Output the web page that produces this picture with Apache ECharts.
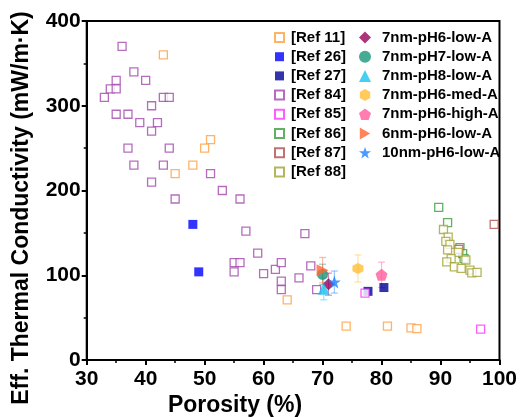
<!DOCTYPE html>
<html><head><meta charset="utf-8">
<script src="https://cdn.jsdelivr.net/npm/echarts@6/dist/echarts.min.js"></script>
<style>html,body{margin:0;padding:0;background:#fff}#c{width:520px;height:417px}</style>
</head><body><div id="c"></div>
<script>
// ---- data ----
const xTicks = [30, 40, 50, 60, 70, 80, 90, 100];
const yTicks = [0, 100, 200, 300, 400];

const ref11 = [[43,360],[51,260],[50,250],[48,230],[45,220],[64,71],[74,40],[81,40],[85,38],[86,37]];
const ref26 = [[48,160],[49,104]];
const ref27 = [[77.7,81],[80.4,85.5]];
const ref84 = [[36,370],[33,310],[34,320],[35,330],[35,320],[35,290],[38,340],[37,290],[40,330],[41,300],[39,280],[42,280],[41,270],[37,250],[43,310],[44,310],[44,250],[38,230],[43,230],[41,210],[45,190],[51,220],[53,200],[56,190],[57,152],[67,149],[59,126],[55,115],[56,115],[55,104],[60,102],[62,107],[63,115],[63,93],[63,83],[66,97],[68,111],[69,83]];
const ref85 = [[77.2,79],[96.8,36.5]];
const ref86 = [[89.7,180],[91.2,162],[93.3,132.5],[93.75,125.5],[94,119.6]];
const ref87 = [[99.1,160],[93.1,130.6]];
const ref88 = [[90.5,154],[91.3,145],[90.9,140],[91.6,136.5],[91.2,130],[93.0,127],[91.8,119.6],[91.06,115.7],[94.3,118],[92.35,109.8],[93.5,108],[95,106],[95.3,102.7],[96.2,103.5]];

const sampleNames = ['7nm-pH6-low-A','7nm-pH7-low-A','7nm-pH8-low-A','7nm-pH6-med-A','7nm-pH6-high-A','6nm-pH6-low-A','10nm-pH6-low-A'];
const sampleX = [71, 70, 70.2, 76, 80, 70, 72];
const sampleY = [89.5, 101, 84, 108, 100.5, 106, 92];
const sampleErr = [13, 12, 13, 16, 15, 15, 13];

// ---- styles ----
const FONT = '"Liberation Sans", Arial, sans-serif';
const refDefs = [
  {name:'[Ref 11]', data:ref11, color:'#ffa040', filled:false},
  {name:'[Ref 26]', data:ref26, color:'#0000ff', filled:true},
  {name:'[Ref 27]', data:ref27, color:'#000096', filled:true},
  {name:'[Ref 84]', data:ref84, color:'#a347ad', filled:false},
  {name:'[Ref 85]', data:ref85, color:'#ff33ff', filled:false},
  {name:'[Ref 86]', data:ref86, color:'#3c9c3c', filled:false},
  {name:'[Ref 87]', data:ref87, color:'#b04e4e', filled:false},
  {name:'[Ref 88]', data:ref88, color:'#a3a333', filled:false}
];
const hexPath = 'path://M0,-10L8.66,-5L8.66,5L0,10L-8.66,5L-8.66,-5Z';
const pentPath = 'path://M0,-10L9.51,-3.09L5.88,8.09L-5.88,8.09L-9.51,-3.09Z';
const starPath = 'path://M0,-10L2.35,-3.24L9.51,-3.09L3.8,1.24L5.88,8.09L0,4L-5.88,8.09L-3.8,1.24L-9.51,-3.09L-2.35,-3.24Z';
const rightTriPath = 'path://M-8.66,-10L8.66,0L-8.66,10Z';
const sampleStyle = [
  {color:'#99005c', symbol:'diamond', size:12},
  {color:'#17967a', symbol:'circle', size:11},
  {color:'#19c3f0', symbol:'triangle', size:12},
  {color:'#ffbe33', symbol:hexPath, size:11},
  {color:'#ff5c9e', symbol:pentPath, size:12},
  {color:'#ff6633', symbol:rightTriPath, size:12},
  {color:'#1a82ff', symbol:starPath, size:13}
];

const series = [];
// error bars
sampleNames.forEach((n, i) => {
  series.push({
    type:'custom', name:n+' err', silent:true, z:1,
    data:[[sampleX[i], sampleY[i]-sampleErr[i], sampleY[i]+sampleErr[i]]],
    encode:{x:0, y:[1,2]},
    renderItem:function(params, api){
      const x = api.value(0);
      const p1 = api.coord([x, api.value(1)]);
      const p2 = api.coord([x, api.value(2)]);
      const w = 3.5;
      const st = {stroke:sampleStyle[i].color, lineWidth:1.2, opacity:0.45};
      return {type:'group', children:[
        {type:'line', shape:{x1:p1[0],y1:p1[1],x2:p2[0],y2:p2[1]}, style:st},
        {type:'line', shape:{x1:p1[0]-w,y1:p1[1],x2:p1[0]+w,y2:p1[1]}, style:st},
        {type:'line', shape:{x1:p2[0]-w,y1:p2[1],x2:p2[0]+w,y2:p2[1]}, style:st}
      ]};
    }
  });
});
refDefs.forEach(d => {
  series.push({
    type:'scatter', name:d.name, data:d.data, symbol:'rect',
    symbolSize: d.filled ? 9 : 8, z:2,
    itemStyle: d.filled ? {color:d.color} : {color:'#ffffff', borderColor:d.color, borderWidth:1.3},
    emphasis:{disabled:true}
  });
});
sampleNames.forEach((n, i) => {
  const s = sampleStyle[i];
  series.push({
    type:'scatter', name:n, data:[[sampleX[i], sampleY[i]]], symbol:s.symbol,
    symbolSize:s.size, z:3,
    itemStyle:{color:s.color}, emphasis:{disabled:true}
  });
});

const axisCommon = {
  axisLine:{show:true, onZero:false, lineStyle:{color:'#000', width:2}},
  axisTick:{show:true, inside:false, length:5, lineStyle:{color:'#000', width:2}},
  minorTick:{show:true, splitNumber:2, length:3, lineStyle:{color:'#000', width:1.5}},
  splitLine:{show:false},
  axisLabel:{color:'#000', fontFamily:FONT, fontWeight:'bold', fontSize:21}
};

const chart = echarts.init(document.getElementById('c'), null, {renderer:'canvas'});
chart.setOption({
  animation:false,
  backgroundColor:'#fff',
  grid:{left:86.7, right:17, top:21, bottom:57, show:true, borderColor:'#000', borderWidth:2},
  xAxis:Object.assign({}, axisCommon, {
    type:'value', min:xTicks[0], max:xTicks[xTicks.length-1], interval:10,
    axisLabel:Object.assign({}, axisCommon.axisLabel, {margin:9})
  }),
  yAxis:Object.assign({}, axisCommon, {
    type:'value', min:yTicks[0], max:yTicks[yTicks.length-1], interval:100,
    axisLabel:Object.assign({}, axisCommon.axisLabel, {margin:6})
  }),
  legend:[
    {data:refDefs.map(d=>d.name), orient:'vertical', left:269, top:25,
     itemWidth:9, itemHeight:9, itemGap:4.2, selectedMode:false,
     textStyle:{fontFamily:FONT, fontWeight:'bold', fontSize:15, color:'#000', lineHeight:15, padding:[0,0,0,2]}},
    {data:sampleNames, orient:'vertical', left:354, top:25,
     itemWidth:12, itemHeight:12, itemGap:4.2, selectedMode:false,
     textStyle:{fontFamily:FONT, fontWeight:'bold', fontSize:15, color:'#000', lineHeight:15, padding:[0,0,0,6]}}
  ],
  graphic:[
    {type:'text', x:21.7, y:208, rotation:Math.PI/2,
     style:{text:'Eff. Thermal Conductivity (mW/m·K)', fontFamily:FONT, fontWeight:'bold', fontSize:23,
            fill:'#000', align:'center', verticalAlign:'middle'}},
    {type:'text', x:235, y:406,
     style:{text:'Porosity (%)', fontFamily:FONT, fontWeight:'bold', fontSize:23,
            fill:'#000', align:'center', verticalAlign:'middle'}}
  ],
  series:series
});
</script></body></html>
